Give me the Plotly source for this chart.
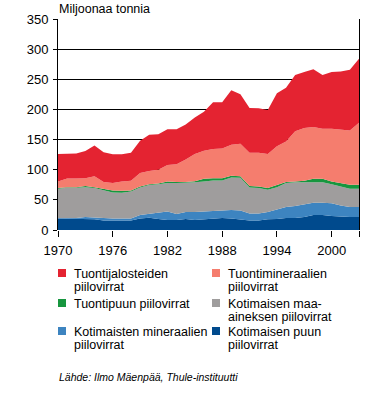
import plotly.graph_objects as go

years = list(range(1970, 2004))

kotimainen_puu = [19, 19, 19, 19, 17.8, 15.6, 15.6, 15.6, 15.6, 19, 20.5, 18.3, 16.7, 16.7, 18.3, 16.7, 17.8,
                  19, 20, 19, 16.7, 15.6, 15.6, 17.8, 18.3, 20, 20, 21.7, 25, 25, 23.3, 22.2, 21.7, 21.7]
kotimaiset_mineraalit = [1, 1, 1, 2.7, 2.7, 3.4, 3.4, 3.4, 3.4, 6, 6.2, 11.1, 13.8, 10, 11.7, 13.3, 12.7,
                         12.7, 12.2, 14.3, 15.5, 11.6, 11.6, 12.2, 15.6, 18.3, 20, 21.1, 20, 20, 21.1, 18.4, 16.6, 16.6]
kotimainen_maa = [48.3, 50, 50, 49.3, 49, 46.5, 43, 42.7, 45, 45.5, 47.8, 46.6, 47.5, 51.1, 47.8, 49, 50,
                  50.3, 49.8, 53.7, 54.5, 43.3, 42.3, 36.7, 37.1, 39.5, 39, 36.2, 34.5, 34, 31.6, 31.4, 30, 30]
tuonti_puu = [1.2, 1, 1, 2, 1.5, 2.5, 3.5, 3.3, 1.5, 1.5, 1.5, 1, 2.5, 1.7, 1.7, 2, 4.5,
              4, 4, 3, 2.3, 2.5, 2.5, 2.8, 4, 1.7, 1.5, 2.5, 5.5, 6, 4.5, 6, 6.7, 6.7]
tuonti_mineraalit = [11, 14.5, 14.5, 13, 18, 11.5, 12.5, 15.5, 16, 22.5, 22, 23, 27.5, 29.5, 37.5, 45, 46.5,
                     48.5, 49, 51.5, 54, 55, 56, 56.5, 64, 67.5, 83.5, 87.5, 86, 83, 87.5, 89, 90, 103]
tuonti_jalosteet = [45.5, 41.5, 41.5, 45, 51, 49.5, 47.5, 45, 46.5, 53.5, 60, 59, 59, 58, 58, 60.5, 64.5,
                    77.5, 77, 90.5, 82, 74.5, 74, 73, 88, 89, 93, 93, 95.5, 89, 94, 96, 101, 106]

x_tickvals = [1970, 1976, 1982, 1988, 1994, 2000, 2003]
x_ticktext = ["1970", "1976", "1982", "1988", "1994", "2000", ""]

series = [
    ("Kotimaisen puun piilovirrat", kotimainen_puu, "#004A8D"),
    ("Kotimaisten mineraalien piilovirrat", kotimaiset_mineraalit, "#3D84C0"),
    ("Kotimaisen maa-aineksen piilovirrat", kotimainen_maa, "#9F9D9D"),
    ("Tuontipuun piilovirrat", tuonti_puu, "#17963F"),
    ("Tuontimineraalien piilovirrat", tuonti_mineraalit, "#F57D6E"),
    ("Tuontijalosteiden piilovirrat", tuonti_jalosteet, "#E42331"),
]

FONT = "Liberation Sans, Arial, sans-serif"

fig = go.Figure()
for name, vals, col in series:
    fig.add_trace(go.Scatter(x=years, y=vals, name=name, stackgroup="one",
                             mode="lines", line=dict(width=0, color=col), fillcolor=col,
                             showlegend=False, hoverinfo="skip"))

# plot area in pixels
L, R, T, B = 58, 359, 19, 230
W, H = R - L, B - T
def px(x):
    return (x - L) / W
def py(y):
    return (B - y) / H

shapes = []
annotations = []
legend_items = [
    ("#E42331", 58, 269, 72, [("Tuontijalosteiden", 274), ("piilovirrat", 287)]),
    ("#F57D6E", 212, 269, 226, [("Tuontimineraalien", 274), ("piilovirrat", 287)]),
    ("#17963F", 58, 299, 72, [("Tuontipuun piilovirrat", 304)]),
    ("#9F9D9D", 212, 299, 226, [("Kotimaisen maa-", 303.5), ("aineksen piilovirrat", 316.5)]),
    ("#3D84C0", 58, 327, 72, [("Kotimaisten mineraalien", 332), ("piilovirrat", 345)]),
    ("#004A8D", 212, 327, 226, [("Kotimaisen puun", 332), ("piilovirrat", 345)]),
]
for col, sx, sy, tx, lines in legend_items:
    shapes.append(dict(type="rect", xref="paper", yref="paper", x0=px(sx), x1=px(sx + 8),
                       y0=py(sy), y1=py(sy + 8), fillcolor=col, line=dict(width=0)))
    for txt, ly in lines:
        annotations.append(dict(text=txt, xref="paper", yref="paper", x=px(tx), y=py(ly),
                                xanchor="left", yanchor="middle", showarrow=False,
                                font=dict(family=FONT, size=12.5, color="black")))

annotations.append(dict(text="Miljoonaa tonnia", xref="paper", yref="paper", x=px(57), y=py(8.5),
                        xanchor="left", yanchor="middle", showarrow=False,
                        font=dict(family=FONT, size=12.5, color="black")))
annotations.append(dict(text="<i>Lähde: Ilmo Mäenpää, Thule-instituutti</i>", xref="paper", yref="paper",
                        x=px(57), y=py(377), xanchor="left", yanchor="middle", showarrow=False,
                        font=dict(family=FONT, size=10.5, color="black")))

fig.update_layout(
    width=369, height=396,
    margin=dict(l=L, r=369 - R, t=T, b=396 - B, pad=0),
    paper_bgcolor="white", plot_bgcolor="white",
    font=dict(family=FONT, size=13, color="black"),
    shapes=shapes, annotations=annotations,
    showlegend=False,
)
fig.update_xaxes(range=[1970, 2003], tickvals=x_tickvals, ticktext=x_ticktext,
                 ticks="outside", ticklen=6, tickcolor="black", showgrid=False,
                 showline=False, zeroline=False, tickfont=dict(size=13), ticklabelstandoff=2)
fig.update_yaxes(range=[0, 350], dtick=50, ticks="outside", ticklen=4, tickcolor="black",
                 showgrid=True, gridcolor="black", gridwidth=1, showline=True, linecolor="black",
                 linewidth=1, mirror=True, zeroline=False, tickfont=dict(size=13), ticklabelstandoff=2)

fig.write_html("out.html", config={"displayModeBar": False},
               post_script="document.body.style.margin='0';document.body.style.padding='0';")
